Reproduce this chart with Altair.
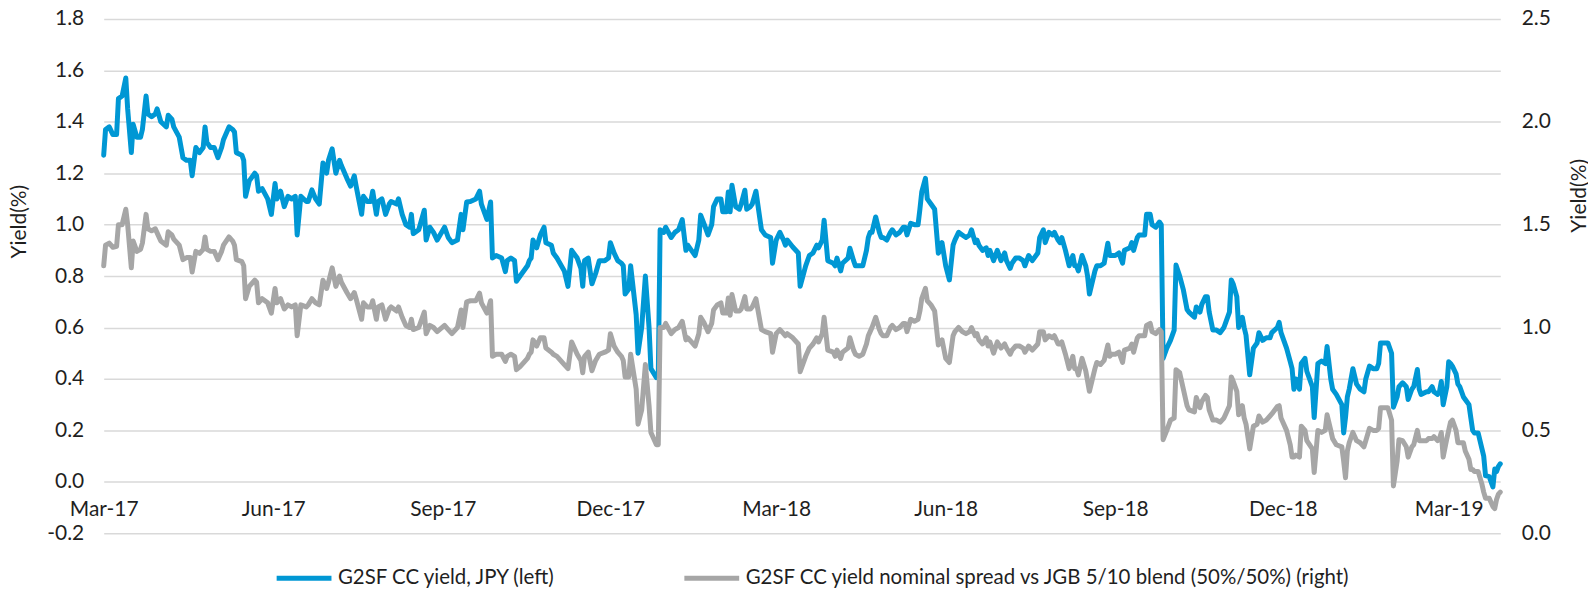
import altair as alt
import pandas as pd

# Observation dates, as days elapsed since 1 March 2017
day_offset = [
    0, 1, 3, 5, 7, 8, 10, 12, 13, 15,
    16, 18, 20, 21, 23, 24, 26, 28, 29, 31,
    34, 35, 37, 38, 41, 43, 45, 47, 48, 50,
    52, 54, 55, 56, 58, 60, 62, 64, 65, 68,
    70, 71, 72, 75, 76, 77, 79, 82, 83, 84,
    86, 89, 91, 93, 94, 96, 98, 100, 102, 104,
    105, 107, 110, 111, 113, 115, 117, 119, 121, 122,
    124, 126, 128, 129, 132, 134, 136, 137, 140, 141,
    143, 145, 146, 148, 149, 151, 153, 155, 156, 159,
    160, 162, 164, 166, 167, 168, 171, 174, 175, 177,
    179, 181, 185, 187, 189, 192, 194, 195, 197, 199,
    202, 204, 205, 208, 210, 211, 213, 216, 218, 219,
    221, 223, 224, 226, 230, 231, 232, 233, 235, 237,
    239, 240, 243, 244, 246, 250, 252, 254, 257, 259,
    260, 261, 263, 265, 267, 269, 272, 274, 275, 277,
    279, 281, 282, 283, 285, 286, 289, 290, 292, 294,
    296, 297, 300, 301, 302, 304, 305, 308, 310, 312,
    314, 316, 317, 319, 321, 323, 324, 326, 328, 330,
    331, 333, 335, 336, 338, 339, 340, 341, 343, 345,
    346, 348, 349, 351, 352, 354, 357, 359, 362, 363,
    365, 367, 369, 370, 371, 374, 377, 378, 381, 383,
    385, 387, 388, 390, 391, 393, 396, 397, 398, 400,
    401, 404, 405, 407, 408, 410, 412, 414, 415, 416,
    417, 419, 421, 422, 423, 425, 427, 428, 430, 432,
    434, 435, 436, 438, 440, 442, 443, 444, 446, 447,
    449, 451, 453, 454, 455, 457, 459, 461, 462, 464,
    466, 468, 470, 471, 473, 474, 475, 477, 479, 480,
    481, 483, 485, 487, 489, 490, 492, 493, 495, 497,
    499, 500, 502, 504, 507, 508, 510, 511, 513, 515,
    516, 518, 519, 520, 522, 524, 526, 527, 528, 529,
    531, 533, 534, 535, 538, 539, 541, 543, 545, 546,
    547, 549, 551, 553, 554, 557, 558, 559, 561, 562,
    565, 566, 568, 569, 571, 573, 574, 575, 577, 579,
    581, 582, 584, 586, 588, 589, 592, 593, 595, 596,
    598, 599, 600, 602, 604, 606, 608, 609, 611, 612,
    613, 615, 616, 618, 619, 620, 622, 624, 626, 627,
    629, 631, 633, 634, 637, 638, 639, 642, 644, 645,
    646, 647, 649, 650, 652, 653, 656, 657, 659, 661,
    663, 664, 666, 667, 669, 672, 673, 674, 675, 676,
    678, 680, 682, 684, 685, 687, 689, 691, 692, 693,
    695, 697, 699, 700, 702, 703, 705, 707, 708, 710,
    711, 713, 714, 715, 718, 719, 721, 722, 724, 725,
    726, 727, 729, 730, 731, 732, 734, 735, 736, 738,
    739, 741, 742, 743, 744, 746, 748, 749, 750, 752,
    754, 755, 756, 757, 758,
]

# G2SF CC yield, JPY (left axis, %)
yield_jpy = [
    1.27, 1.37, 1.38, 1.35, 1.35, 1.49, 1.50, 1.57, 1.45, 1.28,
    1.39, 1.34, 1.34, 1.37, 1.50, 1.43, 1.42, 1.43, 1.45, 1.40,
    1.38, 1.425, 1.41, 1.38, 1.34, 1.26, 1.25, 1.25, 1.19, 1.30,
    1.28, 1.30, 1.38, 1.32, 1.30, 1.30, 1.26, 1.30, 1.33, 1.38,
    1.37, 1.36, 1.28, 1.27, 1.25, 1.11, 1.17, 1.20, 1.19, 1.13,
    1.14, 1.10, 1.04, 1.16, 1.10, 1.13, 1.07, 1.11, 1.10, 1.11,
    0.96, 1.11, 1.09, 1.09, 1.135, 1.10, 1.08, 1.24, 1.20, 1.25,
    1.295, 1.20, 1.25, 1.23, 1.18, 1.15, 1.19, 1.15, 1.04, 1.11,
    1.09, 1.09, 1.13, 1.04, 1.09, 1.10, 1.04, 1.08, 1.09, 1.08,
    1.10, 1.04, 1.00, 0.99, 1.04, 0.965, 0.98, 1.056, 0.94, 0.99,
    0.97, 0.94, 0.99, 0.95, 0.93, 0.94, 1.04, 0.98, 1.088, 1.09,
    1.10, 1.13, 1.08, 1.02, 1.088, 0.87, 0.88, 0.87, 0.817, 0.86,
    0.87, 0.86, 0.78, 0.80, 0.84, 0.86, 0.87, 0.94, 0.91, 0.96,
    0.99, 0.93, 0.92, 0.89, 0.87, 0.82, 0.76, 0.90, 0.87, 0.83,
    0.76, 0.86, 0.87, 0.77, 0.81, 0.86, 0.86, 0.87, 0.93, 0.89,
    0.86, 0.85, 0.84, 0.73, 0.75, 0.84, 0.65, 0.50, 0.60, 0.80,
    0.60, 0.44, 0.405, 0.41, 0.98, 0.97, 0.99, 0.95, 0.97, 0.98,
    1.02, 0.90, 0.92, 0.90, 0.88, 0.94, 1.037, 1.00, 0.96, 1.00,
    1.07, 1.10, 1.10, 1.05, 1.05, 1.127, 1.05, 1.153, 1.07, 1.06,
    1.08, 1.134, 1.06, 1.07, 1.08, 1.13, 0.98, 0.96, 0.95, 0.85,
    0.94, 0.97, 0.94, 0.92, 0.94, 0.913, 0.89, 0.76, 0.84, 0.88,
    0.89, 0.92, 0.91, 0.94, 1.017, 0.86, 0.85, 0.84, 0.87, 0.82,
    0.85, 0.87, 0.908, 0.86, 0.84, 0.84, 0.84, 0.90, 0.95, 0.97,
    0.97, 1.03, 0.97, 0.95, 0.95, 0.94, 0.97, 0.98, 0.96, 0.97,
    0.99, 0.99, 0.96, 1.005, 1.00, 1.00, 1.06, 1.127, 1.18, 1.10,
    1.08, 1.06, 0.889, 0.90, 0.93, 0.84, 0.785, 0.92, 0.94, 0.97,
    0.96, 0.95, 0.96, 0.98, 0.93, 0.94, 0.92, 0.90, 0.91, 0.88,
    0.90, 0.86, 0.90, 0.86, 0.89, 0.86, 0.83, 0.85, 0.87, 0.87,
    0.86, 0.84, 0.88, 0.86, 0.89, 0.95, 0.98, 0.93, 0.97, 0.96,
    0.97, 0.94, 0.93, 0.95, 0.90, 0.84, 0.88, 0.84, 0.84, 0.82,
    0.88, 0.84, 0.80, 0.73, 0.82, 0.84, 0.84, 0.85, 0.928, 0.88,
    0.88, 0.88, 0.89, 0.85, 0.90, 0.91, 0.93, 0.90, 0.95, 0.96,
    0.96, 1.04, 1.04, 1.00, 0.99, 1.01, 1.00, 0.48, 0.52, 0.55,
    0.59, 0.843, 0.80, 0.746, 0.67, 0.66, 0.64, 0.68, 0.66, 0.69,
    0.72, 0.72, 0.66, 0.59, 0.59, 0.58, 0.60, 0.62, 0.66, 0.785,
    0.77, 0.72, 0.60, 0.64, 0.60, 0.57, 0.416, 0.52, 0.54, 0.58,
    0.55, 0.56, 0.56, 0.58, 0.60, 0.62, 0.58, 0.52, 0.467, 0.44,
    0.36, 0.40, 0.36, 0.46, 0.48, 0.43, 0.37, 0.25, 0.46, 0.47,
    0.46, 0.526, 0.40, 0.36, 0.34, 0.30, 0.19, 0.25, 0.33, 0.36,
    0.44, 0.38, 0.36, 0.35, 0.40, 0.45, 0.44, 0.44, 0.46, 0.54,
    0.54, 0.54, 0.50, 0.29, 0.33, 0.37, 0.385, 0.37, 0.32, 0.36,
    0.37, 0.437, 0.36, 0.34, 0.35, 0.35, 0.37, 0.35, 0.34, 0.35,
    0.39, 0.30, 0.37, 0.467, 0.46, 0.45, 0.42, 0.38, 0.37, 0.33,
    0.32, 0.30, 0.25, 0.20, 0.19, 0.19, 0.13, 0.10, 0.024, 0.02,
    -0.02, 0.05, 0.04, 0.06, 0.07,
]

# G2SF CC yield nominal spread vs JGB 5/10 blend (right axis, %)
spread_jgb = [
    1.30, 1.40, 1.41, 1.39, 1.395, 1.50, 1.50, 1.575, 1.50, 1.29,
    1.42, 1.37, 1.38, 1.41, 1.55, 1.48, 1.47, 1.48, 1.46, 1.42,
    1.40, 1.465, 1.45, 1.43, 1.40, 1.33, 1.34, 1.34, 1.27, 1.37,
    1.36, 1.38, 1.44, 1.38, 1.37, 1.37, 1.33, 1.37, 1.40, 1.44,
    1.42, 1.40, 1.33, 1.32, 1.30, 1.14, 1.20, 1.23, 1.22, 1.12,
    1.14, 1.12, 1.07, 1.19, 1.12, 1.14, 1.09, 1.11, 1.10, 1.11,
    0.96, 1.11, 1.10, 1.11, 1.14, 1.12, 1.11, 1.23, 1.19, 1.22,
    1.29, 1.20, 1.25, 1.22, 1.17, 1.14, 1.17, 1.14, 1.04, 1.12,
    1.10, 1.10, 1.13, 1.04, 1.10, 1.11, 1.04, 1.09, 1.10, 1.08,
    1.10, 1.05, 1.01, 1.00, 1.04, 0.99, 1.00, 1.075, 0.97, 1.01,
    1.00, 0.98, 1.01, 0.99, 0.97, 1.00, 1.085, 1.00, 1.125, 1.13,
    1.13, 1.167, 1.12, 1.07, 1.13, 0.86, 0.87, 0.87, 0.835, 0.86,
    0.87, 0.86, 0.795, 0.81, 0.85, 0.87, 0.88, 0.94, 0.91, 0.95,
    0.95, 0.90, 0.88, 0.87, 0.86, 0.82, 0.80, 0.93, 0.87, 0.84,
    0.78, 0.86, 0.88, 0.79, 0.84, 0.87, 0.88, 0.89, 0.97, 0.91,
    0.88, 0.86, 0.84, 0.76, 0.76, 0.87, 0.70, 0.53, 0.60, 0.82,
    0.62, 0.49, 0.43, 0.43, 1.00, 1.00, 1.02, 0.97, 0.99, 1.00,
    1.03, 0.94, 0.95, 0.93, 0.91, 0.97, 1.05, 1.02, 0.98, 1.02,
    1.085, 1.11, 1.12, 1.07, 1.07, 1.143, 1.06, 1.16, 1.08, 1.08,
    1.09, 1.15, 1.09, 1.09, 1.10, 1.14, 0.99, 0.98, 0.97, 0.88,
    0.97, 0.99, 0.97, 0.96, 0.97, 0.95, 0.92, 0.785, 0.86, 0.90,
    0.92, 0.95, 0.93, 0.97, 1.05, 0.89, 0.88, 0.86, 0.89, 0.85,
    0.88, 0.90, 0.95, 0.89, 0.87, 0.86, 0.87, 0.92, 0.96, 0.98,
    1.00, 1.05, 0.99, 0.97, 0.96, 0.96, 1.00, 1.01, 0.99, 1.00,
    1.02, 1.02, 0.98, 1.04, 1.03, 1.04, 1.08, 1.14, 1.19, 1.13,
    1.11, 1.08, 0.915, 0.93, 0.94, 0.85, 0.83, 0.96, 0.98, 1.00,
    0.98, 0.97, 0.98, 1.00, 0.96, 0.97, 0.94, 0.92, 0.95, 0.91,
    0.93, 0.875, 0.93, 0.90, 0.92, 0.90, 0.87, 0.89, 0.91, 0.91,
    0.90, 0.88, 0.91, 0.89, 0.92, 0.98, 0.98, 0.94, 0.96, 0.95,
    0.96, 0.92, 0.92, 0.93, 0.87, 0.80, 0.86, 0.80, 0.80, 0.77,
    0.85, 0.79, 0.74, 0.69, 0.80, 0.83, 0.82, 0.84, 0.915, 0.86,
    0.87, 0.87, 0.88, 0.83, 0.89, 0.90, 0.92, 0.88, 0.95, 0.96,
    0.96, 1.01, 1.02, 0.98, 0.97, 0.99, 0.98, 0.455, 0.50, 0.55,
    0.56, 0.795, 0.78, 0.70, 0.62, 0.60, 0.59, 0.66, 0.61, 0.64,
    0.67, 0.66, 0.60, 0.55, 0.55, 0.54, 0.56, 0.58, 0.62, 0.76,
    0.74, 0.69, 0.576, 0.62, 0.56, 0.53, 0.41, 0.52, 0.53, 0.57,
    0.54, 0.55, 0.57, 0.58, 0.616, 0.62, 0.56, 0.50, 0.43, 0.37,
    0.37, 0.38, 0.37, 0.52, 0.50, 0.45, 0.41, 0.295, 0.50, 0.49,
    0.50, 0.576, 0.50, 0.46, 0.43, 0.42, 0.35, 0.27, 0.40, 0.44,
    0.49, 0.45, 0.44, 0.42, 0.45, 0.51, 0.50, 0.50, 0.51, 0.61,
    0.61, 0.61, 0.55, 0.23, 0.35, 0.455, 0.45, 0.42, 0.37, 0.42,
    0.43, 0.50, 0.45, 0.45, 0.45, 0.46, 0.46, 0.47, 0.45, 0.46,
    0.49, 0.37, 0.46, 0.50, 0.54, 0.55, 0.50, 0.44, 0.44, 0.44,
    0.40, 0.36, 0.31, 0.31, 0.30, 0.30, 0.24, 0.20, 0.17, 0.17,
    0.13, 0.12, 0.165, 0.19, 0.20,
]

series_names = [
    "G2SF CC yield, JPY (left)",
    "G2SF CC yield nominal spread vs JGB 5/10 blend (50%/50%) (right)",
]
series_colors = ["#0097D4", "#A6A6A6"]
left_ticks = [-0.2, 0.0, 0.2, 0.4, 0.6, 0.8, 1.0, 1.2, 1.4, 1.6, 1.8]
right_ticks = [0.0, 0.5, 1.0, 1.5, 2.0, 2.5]
x_tick_months = [(2017, 3), (2017, 6), (2017, 9), (2017, 12), (2018, 3),
                 (2018, 6), (2018, 9), (2018, 12), (2019, 3)]

assert len(day_offset) == len(yield_jpy) == len(spread_jgb)

start = pd.Timestamp("2017-03-01")
df = pd.DataFrame({
    "date": [start + pd.Timedelta(days=d) for d in day_offset],
    "yield": yield_jpy,
    "spread": spread_jgb,
})

FONT = "Lato"
FS = 21
LEG_FS = 20.5
TXT = "#1F1F1F"

x_enc = alt.X(
    "date:T",
    scale=alt.Scale(
        domain=[alt.DateTime(year=2017, month=3, date=1),
                alt.DateTime(year=2019, month=3, date=29)],
        nice=False,
    ),
    axis=alt.Axis(
        values=[alt.DateTime(year=y, month=m, date=1) for y, m in x_tick_months],
        format="%b-%y", title=None, grid=False, ticks=False, domain=False,
        labelPadding=17, offset=-51.6, labelFlush=False, labelOverlap=False,
    ),
)

color_enc = alt.Color(
    "series:N",
    scale=alt.Scale(domain=series_names, range=series_colors),
    legend=alt.Legend(
        orient="none", legendX=171, legendY=531, direction="horizontal", columns=2,
        title=None, symbolType="stroke", symbolSize=3025, symbolStrokeWidth=5,
        labelFontSize=LEG_FS, labelFont=FONT, labelColor=TXT, labelLimit=1200,
        columnPadding=118, labelOffset=4, padding=0,
    ),
)

base = alt.Chart(df)

blue = base.transform_calculate(series=f'"{series_names[0]}"').mark_line(
    strokeWidth=5, strokeJoin="round", strokeCap="round"
).encode(
    x=x_enc,
    y=alt.Y(
        "yield:Q",
        scale=alt.Scale(domain=[-0.2, 1.8], nice=False, zero=False),
        axis=alt.Axis(
            values=left_ticks, title="Yield(%)", grid=True,
            labelExpr="replace(format(datum.value, '.1f'), '\u2212', '-')",
            ticks=False, domain=False, labelPadding=20,
            titleX=-84, titleY=203, titleAngle=270, titleBaseline="middle",
        ),
    ),
    color=color_enc,
)

grey = base.transform_calculate(series=f'"{series_names[1]}"').mark_line(
    strokeWidth=5, strokeJoin="round", strokeCap="round"
).encode(
    x=x_enc,
    y=alt.Y(
        "spread:Q",
        scale=alt.Scale(domain=[0, 2.5], nice=False, zero=False),
        axis=alt.Axis(
            orient="right", values=right_ticks, format=".1f", title="Yield(%)",
            grid=False, ticks=False, domain=False, labelPadding=21,
            titleX=79, titleY=177, titleAngle=270, titleBaseline="middle",
        ),
    ),
    color=color_enc,
)

chart = (
    alt.layer(blue, grey)
    .resolve_scale(y="independent")
    .properties(
        width=1401, height=516,
        padding={"left": 96, "top": 10, "right": 88, "bottom": 56},
        autosize=alt.AutoSizeParams(type="none"),
        background="white",
    )
    .configure_view(stroke=None)
    .configure_axis(
        labelFont=FONT, labelFontSize=FS, labelColor=TXT,
        titleFont=FONT, titleFontSize=FS, titleColor=TXT, titleFontWeight="normal",
        gridColor="#D9D9D9", gridWidth=1.5,
    )
)

chart.save("out.html", embed_options={"renderer": "svg", "actions": False})
